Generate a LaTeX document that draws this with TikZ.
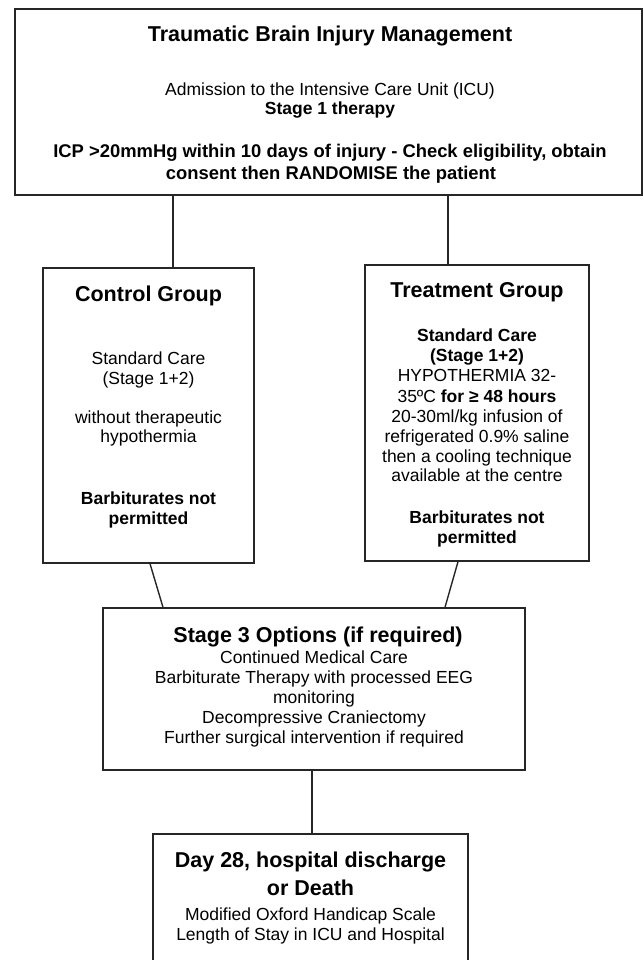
\documentclass[tikz,border=0pt]{standalone}
\usepackage{fontspec}
\setmainfont{Liberation Sans}
\tikzset{
  box/.style={draw=black!85, line width=1.4pt, inner sep=0pt, fill=white},
  ln/.style={draw=black!85, line width=1.4pt},
  hd/.style={anchor=base, inner sep=0pt, font=\fontsize{21.5}{24}\selectfont\bfseries},
  tx/.style={anchor=base, inner sep=0pt, font=\fontsize{17.5}{20}\selectfont},
  tb/.style={anchor=base, inner sep=0pt, font=\fontsize{17.5}{20}\selectfont\bfseries},
  tbl/.style={anchor=base, inner sep=0pt, font=\fontsize{18.4}{21}\selectfont\bfseries},
}
\begin{document}
\begin{tikzpicture}[x=1pt,y=-1pt]
\useasboundingbox (0,0) rectangle (644,960);
\clip (0,0) rectangle (644,960);
% boxes
\node[box, minimum width=627pt, minimum height=186pt] (top) at (328.5,102) {};
\node[box, minimum width=211pt, minimum height=295pt] (ctrl) at (148.5,415.5) {};
\node[box, minimum width=224pt, minimum height=296pt] (trt) at (477,413) {};
\node[box, minimum width=422pt, minimum height=162pt] (s3) at (314,689) {};
\node[box, minimum width=315pt, minimum height=141pt] (fin) at (310.5,904.5) {};
% connectors
\coordinate (c1) at (173,0);
\coordinate (c2) at (448,0);
\coordinate (d1) at (150,0);
\coordinate (d2) at (163,0);
\coordinate (e1) at (458,0);
\coordinate (e2) at (445,0);
\coordinate (f1) at (312,0);
\draw[ln] (top.south -| c1) -- (ctrl.north -| c1);
\draw[ln] (top.south -| c2) -- (trt.north -| c2);
\draw[ln] (ctrl.south -| d1) -- (s3.north -| d2);
\draw[ln] (trt.south -| e1) -- (s3.north -| e2);
\draw[ln] (s3.south -| f1) -- (fin.north -| f1);
% top box text
\node[hd] (t1) at (330,42) {Traumatic Brain Injury Management};
\node[tx] (t2) at (330,96) {Admission to the Intensive Care Unit (ICU)};
\node[tb] (t3) at (330,115) {Stage 1 therapy};
\node[tbl] (t4) at (330,158) {ICP >20mmHg within 10 days of injury - Check eligibility, obtain};
\node[tbl] (t5) at (331,179) {consent then RANDOMISE the patient};
% control
\node[hd] (a1) at (148.5,301) {Control Group};
\node[tx] (a2) at (148.5,364) {Standard Care};
\node[tx] (a3) at (148.5,384) {(Stage 1+2)};
\node[tx] (a4) at (148.5,423) {without therapeutic};
\node[tx] (a5) at (148.5,442) {hypothermia};
\node[tb] (a6) at (148.5,504) {Barbiturates not};
\node[tb] (a7) at (148.5,524) {permitted};
% treatment
\node[hd] (b1) at (477,297) {Treatment Group};
\node[tb] (b2) at (477,341) {Standard Care};
\node[tb] (b3) at (477,361) {(Stage 1+2)};
\node[tx] (b4) at (477,381) {HYPOTHERMIA 32-};
\node[tx] (b5) at (477,402) {35ºC \textbf{for ≥ 48 hours}};
\node[tx] (b6) at (477,422) {20-30ml/kg infusion of};
\node[tx] (b7) at (477,442) {refrigerated 0.9\% saline};
\node[tx] (b8) at (477,462) {then a cooling technique};
\node[tx] (b9) at (477,481) {available at the centre};
\node[tb] (b10) at (477,523) {Barbiturates not};
\node[tb] (b11) at (477,543) {permitted};
% stage 3
\node[hd] (s1) at (318,642) {Stage 3 Options (if required)};
\node[tx] (s2) at (314,663) {Continued Medical Care};
\node[tx] (s4) at (314,683) {Barbiturate Therapy with processed EEG};
\node[tx] (s5) at (314,703) {monitoring};
\node[tx] (s6) at (314,723) {Decompressive Craniectomy};
\node[tx] (s7) at (314,743) {Further surgical intervention if required};
% final
\node[hd] (g1) at (310.5,867) {Day 28, hospital discharge};
\node[hd] (g2) at (310.5,895) {or Death};
\node[tx] (g3) at (310.5,920) {Modified Oxford Handicap Scale};
\node[tx] (g4) at (310.5,940) {Length of Stay in ICU and Hospital};
\end{tikzpicture}
\end{document}
